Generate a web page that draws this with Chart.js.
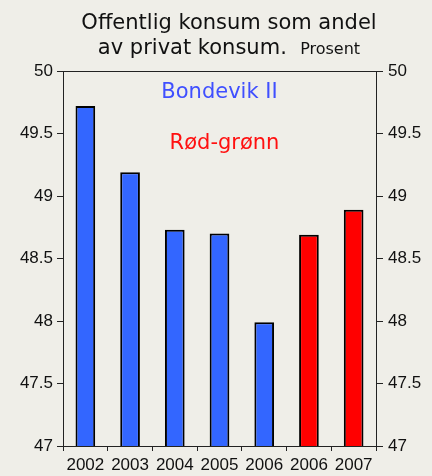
<!DOCTYPE html>
<html>
<head>
<meta charset="utf-8">
<script src="https://cdn.jsdelivr.net/npm/chart.js@4"></script>
<style>
  html, body { margin: 0; padding: 0; background: #EFEEE8; }
  #wrap { width: 432px; height: 476px; position: relative; }
</style>
</head>
<body>
<div id="wrap"><canvas id="chart"></canvas></div>
<script>
// ===== DATA =====
const years = ['2002', '2003', '2004', '2005', '2006', '2006', '2007'];
const share = [49.72, 49.19, 48.73, 48.70, 47.99, 48.69, 48.89];
const govt = ['Bondevik II', 'Bondevik II', 'Bondevik II', 'Bondevik II', 'Bondevik II', 'Rød-grønn', 'Rød-grønn'];
const yTicks = [47, 47.5, 48, 48.5, 49, 49.5, 50];

const govtColor = { 'Bondevik II': '#3366FF', 'Rød-grønn': '#FF0000' };
const labelColor = { 'Bondevik II': '#3F4FFF', 'Rød-grønn': '#FF1010' };

const tickFont = { family: 'Liberation Sans', size: 17 };

// top frame line, title and the two government labels
const decor = {
  id: 'decor',
  beforeDatasetsDraw(chart) {
    const { ctx, chartArea: a } = chart;
    ctx.save();
    ctx.strokeStyle = '#222';
    ctx.lineWidth = 1;
    ctx.beginPath();
    ctx.moveTo(a.left, a.top + 0.5);
    ctx.lineTo(a.right, a.top + 0.5);
    ctx.stroke();
    ctx.restore();
  },
  afterDraw(chart) {
    const { ctx, scales } = chart;
    ctx.save();
    ctx.fillStyle = '#111';
    ctx.textBaseline = 'alphabetic';
    ctx.textAlign = 'center';
    ctx.font = '21px "DejaVu Sans"';
    ctx.fillText('Offentlig konsum som andel', 229, 29);

    const l1 = 'av privat konsum.  ';
    const l2 = 'Prosent';
    const w1 = ctx.measureText(l1).width;
    ctx.font = '16px "DejaVu Sans"';
    const w2 = ctx.measureText(l2).width;
    const x0 = 229 - (w1 + w2) / 2;
    ctx.textAlign = 'left';
    ctx.font = '21px "DejaVu Sans"';
    ctx.fillText(l1, x0, 54);
    ctx.font = '16px "DejaVu Sans"';
    ctx.fillText(l2, x0 + w1, 54);

    // government labels
    ctx.textAlign = 'center';
    ctx.textBaseline = 'middle';
    ctx.font = '21px "DejaVu Sans"';
    const cx = scales.x.getPixelForValue(3);
    ctx.fillStyle = labelColor['Bondevik II'];
    ctx.fillText('Bondevik II', cx, scales.y.getPixelForValue(49.83));
    ctx.fillStyle = labelColor['Rød-grønn'];
    ctx.fillText('Rød-grønn', cx + 5, scales.y.getPixelForValue(49.42));
    ctx.restore();
  }
};

const yAxis = (position, tickLength, padding, width) => ({
  position,
  min: 47, max: 50,
  afterBuildTicks(s) { s.ticks = yTicks.map(v => ({ value: v })); },
  grid: { drawOnChartArea: false, color: '#222', tickLength },
  border: { color: '#222' },
  ticks: { color: '#111', font: tickFont, padding, callback: v => String(v) },
  afterFit(s) { s.width = width; }
});

new Chart(document.getElementById('chart'), {
  type: 'bar',
  data: {
    labels: years,
    datasets: [{
      data: share,
      backgroundColor: govt.map(g => govtColor[g]),
      borderColor: '#000',
      borderWidth: 2,
      borderSkipped: false,
      barPercentage: 0.44,
      categoryPercentage: 1
    }]
  },
  options: {
    responsive: true,
    maintainAspectRatio: false,
    animation: false,
    layout: { padding: { top: 71, left: 0, right: 0, bottom: 0 } },
    plugins: {
      legend: { display: false },
      tooltip: { enabled: false }
    },
    scales: {
      x: {
        grid: { offset: true, drawOnChartArea: false, color: '#222', tickLength: 5 },
        border: { color: '#222' },
        ticks: { color: '#111', font: tickFont, padding: 4, maxRotation: 0, autoSkip: false },
        afterFit(s) { s.height = 30; }
      },
      y: yAxis('left', 6, 4, 63),
      y2: yAxis('right', 7, 5, 56)
    }
  },
  plugins: [decor]
});
</script>
</body>
</html>
